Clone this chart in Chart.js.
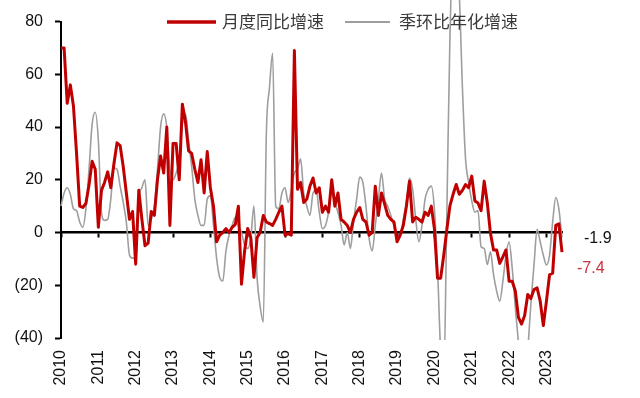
<!DOCTYPE html>
<html>
<head>
<meta charset="utf-8">
<script src="https://cdn.jsdelivr.net/npm/chart.js@4"></script>
<style>
html,body{margin:0;padding:0;background:#fff;}
#wrap{width:640px;height:398px;}
</style>
</head>
<body>
<div id="wrap"><canvas id="c" width="640" height="398"></canvas></div>
<script>
// ---- data ----
const years = ['2010','2011','2012','2013','2014','2015','2016','2017','2018','2019','2020','2021','2022','2023'];
const monthsInLastYear = 6;
const seriesNames = ['月度同比增速', '季环比年化增速'];
const yTickValues = [-40, -20, 0, 20, 40, 60, 80];

const yoyGrowth = [
  70, 70, 49, 56, 48, 30, 10, 9.5, 11, 18, 27, 24,
  2, 16, 19, 23, 17, 26, 34, 33, 25, 15, 5, 8,
  -12, 16, 5, -5, -4, 8, 6.5, 20, 29, 22.6, 40, 2.7,
  33.8, 33.8, 20, 48.7, 42, 31, 30, 24, 19, 27.6, 15, 30.7,
  17, 10, -3.5, -1, 0, 1.5, 0, 2, 3, 10, -19.6, -7,
  1.5, -2, -17, -2, 0, 6.5, 4, 3.4, 2.7, 5, 7.7, 10,
  -1, -0.4, -1, 69, 16.4, 19, 11.4, 12.7, 17.6, 20.7, 15, 17,
  7.7, 10, 7.7, 20, 10, 15, 5, 4, 2.7, 0, 5, 7.7,
  9.5, 5, 4, -1, 0, 17.6, 6.5, 15, 10.8, 6.5, 5, 4,
  -3.5, -1, 2.7, 10, 19.5, 4, 5.8, 5, 4, 7.7, 6.5, 10,
  1.4, -17.3, -17.3, -8.6, 1.2, 10.2, 14.5, 18.2, 14.5, 16, 18.2, 17,
  21.4, 12, 11.2, 8.3, 19.5, 11.2, -0.2, -6.6, -6.6, -11.7, -9.2, -6.6,
  -18.5, -18.5, -22.2, -32.2, -34.7, -31.5, -23.5, -25, -21.6, -21, -26, -35.3,
  -26, -16, -15.4, 2.7, 3.3, -7.4
];

const qoqAnnualized = [
  10, 15, 17, 14.5, 9, 8.3, 4, 2, 9, 24, 41, 45.6,
  35, 7.7, 4.6, 5, 12.7, 24.5, 24, 17.6, 11.4, 4, -8.5, -9.7,
  -9.7, 12.7, 17, 20, 2.7, 5, 10, 24, 40, 45, 40, 24,
  20, 22.6, 27.6, 41, 45, 35, 25, 12.7, 6.5, 2.7, 2.7, 12.7,
  14, 2.7, -9.7, -17, -18.4, -7, -1, 2.7, 5.8, 2.7, 0, -4.7,
  -6, -2, 10, -17, -28, -34, 38, 55, 68, 10, 9, 15,
  17, 11.4, 16, 22.6, 24, 28, 15, 10, 6.5, 15, 16, 7.7,
  1.5, 2.7, 7.7, 16, 11.4, 7.7, 2.7, -4.7, 0, -6, 4, 12.7,
  21, 19, 10, -2, -7, 2.7, 12.7, 22.6, 12.7, 10, 6.5, 2.7,
  -2, -1, 5, 11.4, 20.7, 16.4, 5, -3.5, 2.7, 12.7, 16.4, 17.6,
  8.9, -13.5, -45, -55, 8, 75, 105, 105, 90, 55, 28, 19,
  12, 7.7, 8.3, -5.4, -6, -12.2, -7.3, -16, -22.2, -26, -18.5, -8.5,
  -3.6, -13.5, -28.5, -42, -60, -60, -45, -27, -12.3, 1.2, -3.6, -8.6,
  -12.3, -8.6, 4, 13.3, 8.9, -1.9
];

// monthly categories built from the year list
const categories = [];
years.forEach((y, i) => {
  const n = i === years.length - 1 ? monthsInLastYear : 12;
  for (let m = 1; m <= n; m++) categories.push(y + '-' + String(m).padStart(2, '0'));
});

const RED = '#c00000';
const GRAY = '#9e9e9e';
const FONT = "'Liberation Sans', Arial, sans-serif";

const yearTicksOnly = (scale) => {
  scale.ticks = scale.ticks.filter(t => t.value % 12 === 0);
};

// custom legend drawn inside the plot area, and end-value labels
const overlayPlugin = {
  id: 'overlay',
  afterDraw(chart) {
    const ctx = chart.ctx;
    const ds = chart.data.datasets;
    ctx.save();
    const ly = 22;
    const items = [
      {x0: 167, x1: 216, tx: 222, ds: ds[0]},
      {x0: 345, x1: 390, tx: 399, ds: ds[1]}
    ];
    items.forEach(it => {
      ctx.beginPath();
      ctx.strokeStyle = it.ds.borderColor;
      ctx.lineWidth = it.ds.borderWidth + 0.5;
      ctx.moveTo(it.x0, ly);
      ctx.lineTo(it.x1, ly);
      ctx.stroke();
      ctx.fillStyle = '#3a3a3a';
      ctx.font = "17px 'Noto Sans CJK SC', sans-serif";
      ctx.textAlign = 'left';
      ctx.textBaseline = 'middle';
      ctx.fillText(it.ds.label, it.tx, ly);
    });
    const y = chart.scales.y;
    const right = chart.chartArea.right;
    const lastGray = qoqAnnualized[qoqAnnualized.length - 1];
    const lastRed = yoyGrowth[yoyGrowth.length - 1];
    ctx.font = '16px ' + FONT;
    ctx.textBaseline = 'middle';
    ctx.textAlign = 'left';
    ctx.fillStyle = '#111';
    ctx.fillText(lastGray.toFixed(1), right + 22, y.getPixelForValue(lastGray) + 1.5);
    ctx.fillStyle = '#c8323a';
    ctx.fillText(lastRed.toFixed(1), right + 15, y.getPixelForValue(lastRed) + 17);
    ctx.restore();
  }
};

const clipArea = {left: 2, top: 40, right: 2, bottom: 2};

new Chart(document.getElementById('c'), {
  type: 'line',
  data: {
    labels: categories,
    datasets: [
      {
        label: seriesNames[0], data: yoyGrowth, borderColor: RED, backgroundColor: RED,
        borderWidth: 3, pointRadius: 0, tension: 0, borderJoinStyle: 'round',
        clip: clipArea, xAxisID: 'x', yAxisID: 'y'
      },
      {
        label: seriesNames[1], data: qoqAnnualized, borderColor: GRAY, backgroundColor: GRAY,
        borderWidth: 1.6, pointRadius: 0, cubicInterpolationMode: 'monotone',
        clip: clipArea, xAxisID: 'x', yAxisID: 'y'
      }
    ]
  },
  options: {
    responsive: false,
    animation: false,
    devicePixelRatio: 1,
    layout: {padding: {left: 0, right: 78, top: 17, bottom: 0}},
    plugins: {legend: {display: false}, tooltip: {enabled: false}},
    scales: {
      x: {
        type: 'category',
        position: 'bottom',
        afterBuildTicks: yearTicksOnly,
        afterFit: (s) => { s.height = 60; },
        border: {display: false},
        grid: {display: false, drawTicks: false},
        ticks: {
          autoSkip: false, minRotation: 90, maxRotation: 90, padding: 12,
          color: '#111', font: {family: FONT, size: 16},
          callback: function (v) { return this.getLabelForValue(v).slice(0, 4); }
        }
      },
      x0: {
        type: 'category',
        position: {y: 0},
        afterBuildTicks: yearTicksOnly,
        border: {display: true, color: '#000', width: 2.5},
        grid: {display: true, drawOnChartArea: false, drawTicks: true, tickLength: 4, tickColor: '#000', tickWidth: 2},
        ticks: {display: false, autoSkip: false}
      },
      y: {
        min: yTickValues[0],
        max: yTickValues[yTickValues.length - 1],
        afterBuildTicks: (s) => { s.ticks = yTickValues.map(v => ({value: v})); },
        afterFit: (s) => { s.width = 61; },
        border: {display: true, color: '#000', width: 2},
        grid: {display: true, drawOnChartArea: false, drawTicks: true, tickLength: 6, tickColor: '#000', tickWidth: 2},
        ticks: {
          padding: 12, color: '#111', font: {family: FONT, size: 16},
          callback: (v) => v < 0 ? '(' + Math.abs(v) + ')' : String(v)
        }
      }
    }
  },
  plugins: [overlayPlugin]
});
</script>
</body>
</html>
